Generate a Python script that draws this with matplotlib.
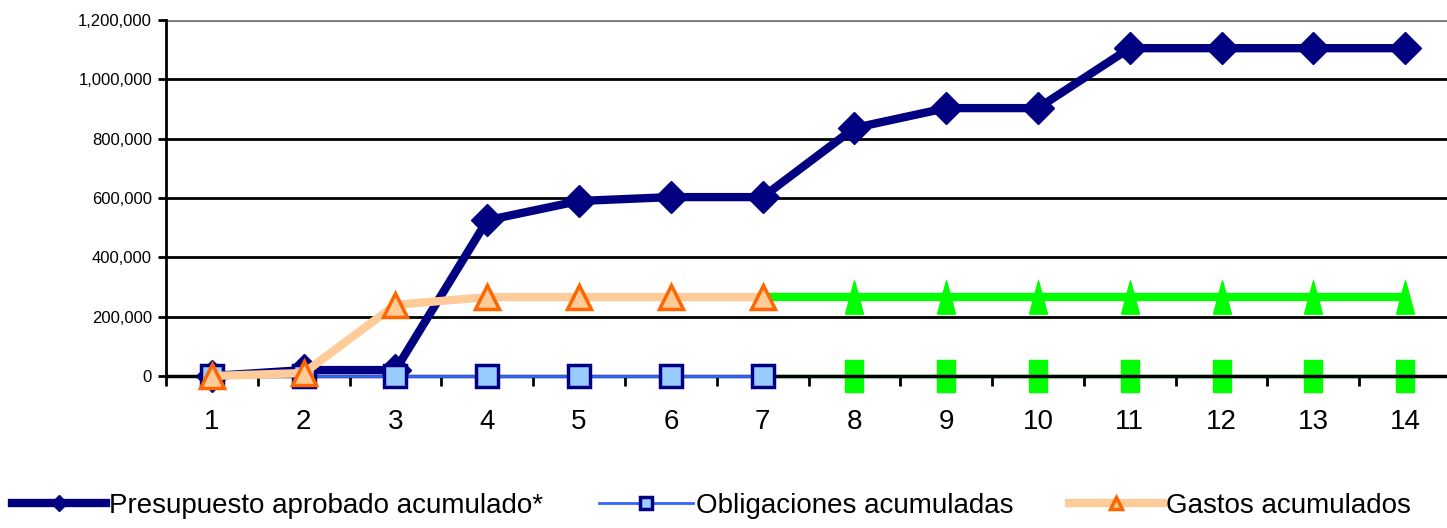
import numpy as np
import matplotlib.pyplot as plt
from matplotlib.ticker import FuncFormatter, FixedLocator

# --- data ---
periods = list(range(1, 15))
presupuesto = [0, 20000, 20000, 525000, 590000, 603000, 603000,
               836000, 903000, 903000, 1105000, 1105000, 1105000, 1105000]
obligaciones = [0, 0, 0, 0, 0, 0, 0]
gastos = [0, 10000, 240000, 266000, 266000, 266000, 266000]
# projected part (green), from period 7 on
proj_periods = list(range(7, 15))
gastos_proj = [266000] * 8
oblig_proj = [0] * 8

plt.rcParams['font.family'] = ['Liberation Sans', 'DejaVu Sans']

# tall narrow markers used for the projected series
tall_rect = [(-0.27, -0.5), (0.27, -0.5), (0.27, 0.5), (-0.27, 0.5), (-0.27, -0.5)]
tall_tri = [(-0.27, -0.5), (0.27, -0.5), (0.0, 0.5), (-0.27, -0.5)]

fig = plt.figure(figsize=(14.47, 5.28), dpi=100)
ax = fig.add_axes([166 / 1447, 1 - 376 / 528, 1285 / 1447, 356 / 528])

# gridlines
for v in range(200000, 1200001, 200000):
    top = v == 1200000
    ax.axhline(v, color='#808080' if top else 'black', lw=3 if top else 2, zorder=0)

# projected (green) lines
ax.plot(proj_periods, gastos_proj, color='#00ff00', lw=6, zorder=1.5, clip_on=False)
ax.plot(proj_periods[1:], gastos_proj[1:], ls='none', marker=tall_tri, ms=24,
        markerfacecolor='#00ff00', markeredgecolor='#00ff00', zorder=2, clip_on=False)
ax.plot(proj_periods, oblig_proj, color='#00ff00', lw=2.5, zorder=1.5, clip_on=False)
ax.plot(proj_periods[1:], oblig_proj[1:], ls='none', marker=tall_rect, ms=23,
        markerfacecolor='#00ff00', markeredgecolor='#00ff00', zorder=2, clip_on=False)

# main series
l1, = ax.plot(periods, presupuesto, color='#000080', lw=6, marker='D', ms=16,
              markerfacecolor='#000080', markeredgecolor='#000080', zorder=3,
              clip_on=False, label='Presupuesto aprobado acumulado*')
l2, = ax.plot(periods[:7], obligaciones, color='#3366ff', lw=2, marker='s', ms=16,
              markerfacecolor='#99ccff', markeredgecolor='#000080', markeredgewidth=2.5,
              zorder=4, clip_on=False, label='Obligaciones acumuladas')
l3, = ax.plot(periods[:7], gastos, color='#ffcc99', lw=6, marker='^', ms=17,
              markerfacecolor='#ffcc99', markeredgecolor='#ff6600', markeredgewidth=2.5,
              zorder=5, clip_on=False, label='Gastos acumulados')

ax.set_xlim(0.5, 14.5)
ax.set_ylim(0, 1200000)
ax.set_yticks(range(0, 1200001, 200000))
ax.yaxis.set_major_formatter(FuncFormatter(lambda v, p: f'{int(v):,}'))
ax.set_xticks(periods)
ax.xaxis.set_minor_locator(FixedLocator(np.arange(0.5, 15, 1)))
ax.tick_params(axis='x', which='major', length=0, labelsize=20, pad=24)
ax.tick_params(axis='x', which='minor', length=7, width=2, direction='out')
ax.tick_params(axis='y', length=6, width=2, labelsize=12, pad=4)

for s in ['top', 'right']:
    ax.spines[s].set_visible(False)
ax.spines['left'].set_linewidth(2)
ax.spines['bottom'].set_linewidth(2.5)

fig.legend(handles=[l1, l2, l3], loc='lower left', bbox_to_anchor=(-0.009, -0.03), ncol=3,
           frameon=False, fontsize=20, handlelength=3.4, handletextpad=0.1,
           columnspacing=2.0, markerscale=0.5)

fig.savefig('out.png', dpi=100)
